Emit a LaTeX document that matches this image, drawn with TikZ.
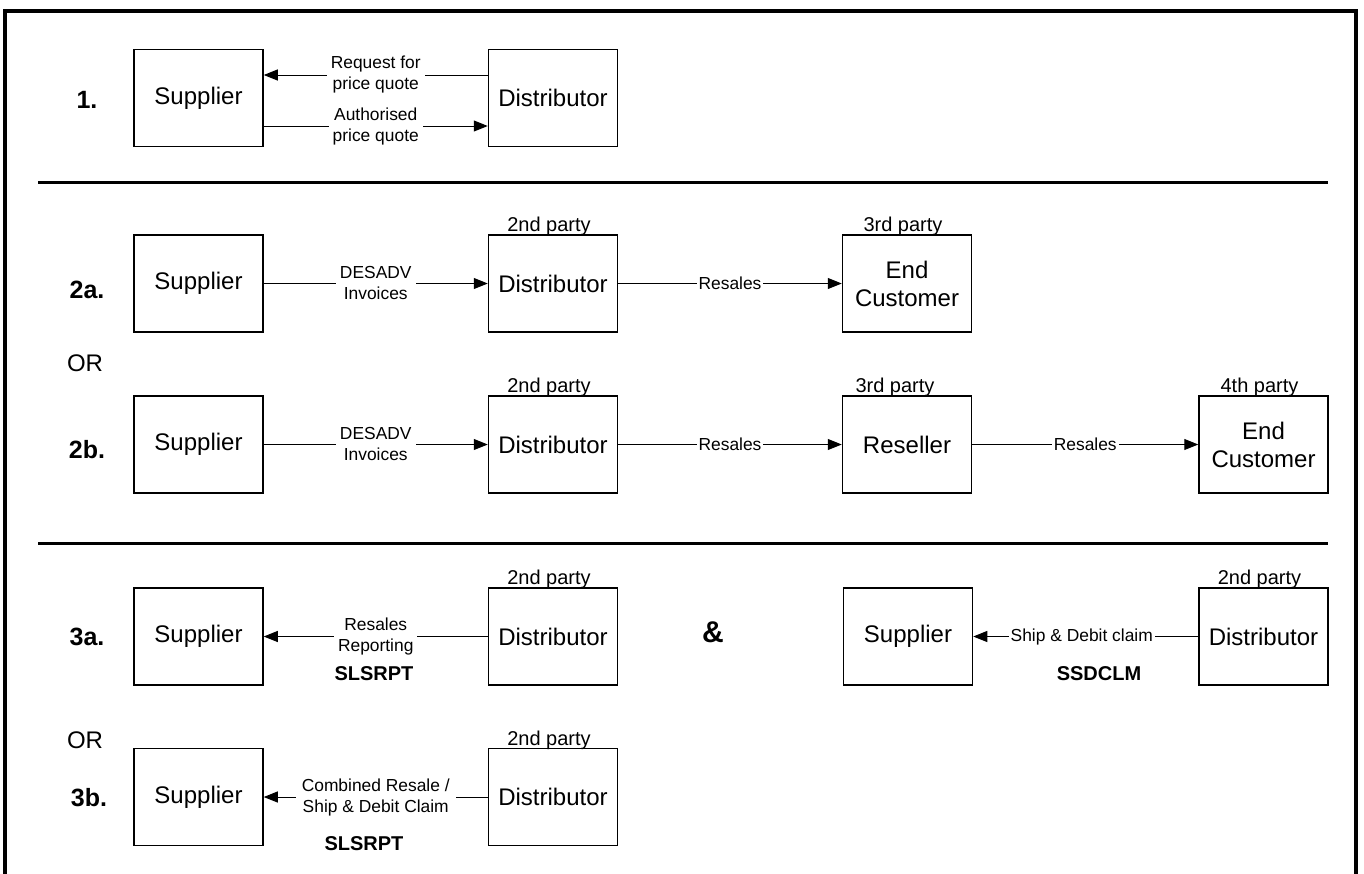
\documentclass[tikz,border=0pt]{standalone}
\usepackage{fontspec}
\setmainfont{Liberation Sans}
\usetikzlibrary{arrows.meta,positioning}

\begin{document}
\begin{tikzpicture}[x=0.5pt,y=-0.5pt,
    party/.style={draw, line width=0.75pt, minimum width=64.5pt, minimum height=48.5pt,
      inner sep=0pt, align=center, font=\fontsize{12}{14}\selectfont},
    flow/.style={line width=0.5pt, -{Triangle[length=7pt,width=5.5pt]}},
    msg/.style={fill=white, inner sep=2pt, align=center, font=\fontsize{8.7}{10.5}\selectfont},
    role/.style={anchor=base, inner sep=0pt, xshift=-2pt, yshift=1.2pt, font=\fontsize{10}{12}\selectfont},
    rowlbl/.style={font=\fontsize{12.5}{15}\selectfont\bfseries},
    orlbl/.style={font=\fontsize{12}{14}\selectfont},
    code/.style={font=\fontsize{10}{12}\selectfont\bfseries}]
    \useasboundingbox (0,0) rectangle (1364,873);
    % frame and separators
    \draw[line width=2pt] (5,880) -- (5,11) -- (1356,11) -- (1356,880);
    \draw[line width=1.5pt] (38,182) -- (1328,182);
    \draw[line width=1.5pt] (38,543) -- (1328,543);

    % 1.
    \node[rowlbl] (lbl1) at (87,100) {1.};
    \node[party] (sup1) at (198.5,98) {Supplier};
    \node[party] (dis1) at (553,98) {Distributor};
    \draw[flow] ([yshift=11.5pt]dis1.west) -- node[msg] {Request for\\price quote} ([yshift=11.5pt]sup1.east);
    \draw[flow] ([yshift=-14pt]sup1.east) -- node[msg] {Authorised\\price quote} ([yshift=-14pt]dis1.west);

    % 2a.
    \node[rowlbl] (lbl2a) at (87,290) {2a.};
    \node[party] (sup2a) at (198.5,283.5) {Supplier};
    \node[party] (dis2a) at (553,283.5) {Distributor};
    \node[party] (end2a) at (907,283.5) {End\\Customer};
    \node[role] (rol2a1) at (dis2a.north) {2nd party};
    \node[role] (rol2a2) at (end2a.north) {3rd party};
    \draw[flow] (sup2a) -- node[msg] {DESADV\\Invoices} (dis2a);
    \draw[flow] (dis2a) -- node[msg, inner sep=1pt] {Resales} (end2a);

    \node[orlbl] (or2) at (85,363) {OR};

    % 2b.
    \node[rowlbl] (lbl2b) at (87,450) {2b.};
    \node[party] (sup2b) at (198.5,444.5) {Supplier};
    \node[party] (dis2b) at (553,444.5) {Distributor};
    \node[party] (res2b) at (907,444.5) {Reseller};
    \node[party] (end2b) at (1263.5,444.5) {End\\Customer};
    \node[role] (rol2b1) at (dis2b.north) {2nd party};
    \node[role, xshift=-4pt] (rol2b2) at (res2b.north) {3rd party};
    \node[role] (rol2b3) at (end2b.north) {4th party};
    \draw[flow] (sup2b) -- node[msg] {DESADV\\Invoices} (dis2b);
    \draw[flow] (dis2b) -- node[msg, inner sep=1pt] {Resales} (res2b);
    \draw[flow] (res2b) -- node[msg, inner sep=1pt] {Resales} (end2b);

    % 3a.
    \node[rowlbl] (lbl3a) at (87,637) {3a.};
    \node[party] (sup3a) at (198.5,636.5) {Supplier};
    \node[party] (dis3a) at (553,636.5) {Distributor};
    \node[role] (rol3a) at (dis3a.north) {2nd party};
    \draw[flow] (dis3a) -- node[msg] (msg3a) {Resales\\Reporting} (sup3a);
    \node[code] (cod3a) at (374,674) {SLSRPT};

    \node[font=\fontsize{15}{18}\selectfont\bfseries] (amp) at (713,632) {\&};
    \node[party] (sup3c) at (908,636.5) {Supplier};
    \node[party] (dis3c) at (1263.5,636.5) {Distributor};
    \node[role] (rol3c) at (dis3c.north) {2nd party};
    \draw[flow] (dis3c) -- node[msg, inner sep=1pt, xshift=-2pt] {Ship \& Debit claim} (sup3c);
    \node[code] (cod3c) at (1099,674) {SSDCLM};

    \node[orlbl] (or3) at (85,740) {OR};

    % 3b.
    \node[rowlbl] (lbl3b) at (89,798) {3b.};
    \node[party] (sup3b) at (198.5,797) {Supplier};
    \node[party] (dis3b) at (553,797) {Distributor};
    \node[role] (rol3b) at (dis3b.north) {2nd party};
    \draw[flow] (dis3b) -- node[msg, inner sep=3pt] {Combined Resale /\\Ship \& Debit Claim} (sup3b);
    \node[code] (cod3b) at (364,844) {SLSRPT};
\end{tikzpicture}
\end{document}
